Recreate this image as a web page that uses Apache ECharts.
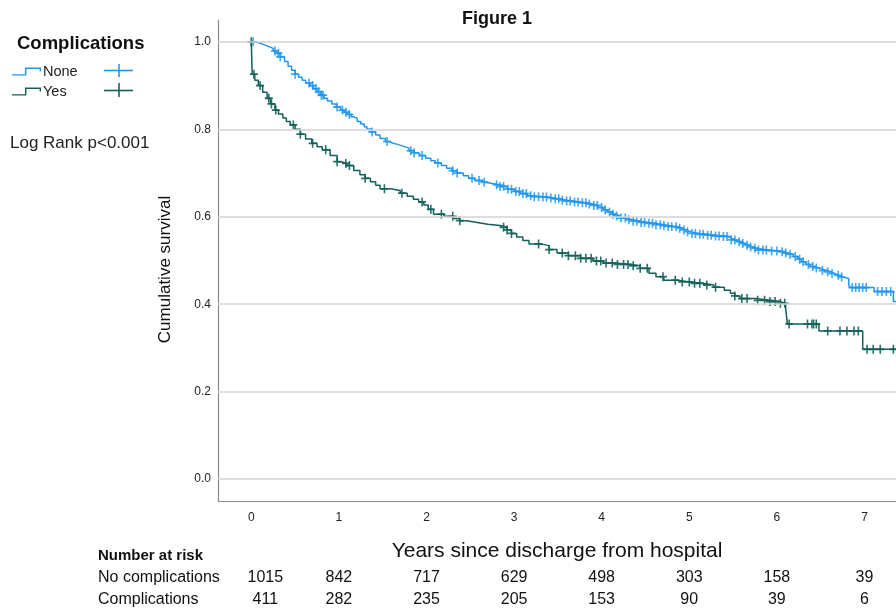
<!DOCTYPE html>
<html>
<head>
<meta charset="utf-8">
<script src="https://cdn.jsdelivr.net/npm/echarts@6/dist/echarts.min.js"></script>
<style>html,body{margin:0;padding:0;background:#fff;}#c{width:896px;height:609px;}</style>
</head>
<body>
<div id="c"></div>
<script>
// ---- Data ----
const years = [0, 1, 2, 3, 4, 5, 6, 7];
const yTicks = [0, 0.2, 0.4, 0.6, 0.8, 1.0];
const atRiskNone = [1015, 842, 717, 629, 498, 303, 158, 39];
const atRiskYes = [411, 282, 235, 205, 153, 90, 39, 6];

// Kaplan-Meier steps: "None" (no complications)
const noneTimes = [0, 0.05, 0.10, 0.15, 0.20, 0.25, 0.29, 0.33, 0.38, 0.42, 0.46, 0.50, 0.54, 0.58, 0.62, 0.67, 0.71, 0.75, 0.79, 0.83, 0.87, 0.92, 0.97, 1.02, 1.06, 1.10, 1.14, 1.17, 1.21, 1.25, 1.29, 1.32, 1.37, 1.42, 1.47, 1.53, 1.58, 1.62, 1.68, 1.74, 1.80, 1.86, 1.92, 1.99, 2.05, 2.10, 2.17, 2.23, 2.29, 2.35, 2.42, 2.48, 2.55, 2.62, 2.68, 2.75, 2.84, 2.92, 3.00, 3.07, 3.15, 3.22, 3.30, 3.38, 3.45, 3.52, 3.60, 3.68, 3.75, 3.83, 3.90, 3.96, 4.02, 4.07, 4.12, 4.16, 4.21, 4.28, 4.35, 4.44, 4.52, 4.61, 4.70, 4.76, 4.82, 4.87, 4.92, 4.96, 5.01, 5.10, 5.20, 5.30, 5.39, 5.44, 5.48, 5.53, 5.58, 5.63, 5.68, 5.72, 5.77, 5.90, 6.04, 6.08, 6.12, 6.19, 6.24, 6.28, 6.33, 6.38, 6.43, 6.48, 6.52, 6.57, 6.62, 6.66, 6.71, 6.76, 6.82, 6.84, 7.11, 7.33, 7.36];
const noneSurv  = [1.0, 0.997, 0.993, 0.989, 0.985, 0.979, 0.974, 0.966, 0.955, 0.944, 0.935, 0.926, 0.919, 0.912, 0.906, 0.900, 0.893, 0.886, 0.878, 0.871, 0.865, 0.858, 0.851, 0.844, 0.839, 0.834, 0.829, 0.825, 0.818, 0.812, 0.806, 0.801, 0.794, 0.787, 0.779, 0.772, 0.768, 0.765, 0.761, 0.757, 0.751, 0.746, 0.740, 0.734, 0.728, 0.723, 0.717, 0.711, 0.705, 0.700, 0.694, 0.688, 0.683, 0.679, 0.676, 0.673, 0.669, 0.663, 0.658, 0.653, 0.648, 0.646, 0.645, 0.643, 0.641, 0.638, 0.636, 0.634, 0.632, 0.629, 0.626, 0.621, 0.616, 0.611, 0.606, 0.602, 0.597, 0.593, 0.590, 0.587, 0.585, 0.582, 0.580, 0.578, 0.577, 0.574, 0.570, 0.566, 0.562, 0.560, 0.558, 0.556, 0.555, 0.551, 0.547, 0.543, 0.539, 0.535, 0.531, 0.528, 0.524, 0.522, 0.520, 0.517, 0.514, 0.509, 0.503, 0.497, 0.491, 0.486, 0.483, 0.480, 0.477, 0.474, 0.470, 0.466, 0.462, 0.459, 0.444, 0.438, 0.429, 0.406, 0.406];

// Kaplan-Meier steps: "Yes" (complications)
const yesTimes = [0, 0.01, 0.04, 0.08, 0.13, 0.18, 0.22, 0.27, 0.31, 0.36, 0.40, 0.445, 0.50, 0.56, 0.62, 0.69, 0.75, 0.81, 0.90, 0.98, 1.03, 1.09, 1.17, 1.24, 1.30, 1.36, 1.42, 1.47, 1.59, 1.70, 1.78, 1.85, 1.91, 1.97, 2.02, 2.08, 2.20, 2.31, 2.38, 2.46, 2.58, 2.70, 2.84, 2.92, 2.97, 3.03, 3.10, 3.17, 3.30, 3.40, 3.49, 3.62, 3.76, 3.90, 4.02, 4.18, 4.33, 4.44, 4.54, 4.62, 4.71, 4.86, 5.01, 5.15, 5.28, 5.40, 5.47, 5.52, 5.58, 5.75, 5.92, 6.04, 6.10, 6.12, 6.48, 6.98, 7.36];
const yesSurv  = [1.0, 0.926, 0.912, 0.900, 0.885, 0.871, 0.858, 0.844, 0.835, 0.826, 0.818, 0.810, 0.800, 0.789, 0.778, 0.768, 0.760, 0.753, 0.740, 0.726, 0.722, 0.717, 0.706, 0.696, 0.688, 0.680, 0.672, 0.664, 0.660, 0.654, 0.647, 0.640, 0.634, 0.627, 0.617, 0.606, 0.601, 0.596, 0.591, 0.587, 0.583, 0.580, 0.576, 0.570, 0.562, 0.554, 0.546, 0.538, 0.534, 0.525, 0.517, 0.511, 0.505, 0.499, 0.494, 0.491, 0.488, 0.482, 0.471, 0.463, 0.455, 0.451, 0.448, 0.444, 0.439, 0.432, 0.425, 0.419, 0.413, 0.409, 0.406, 0.402, 0.391, 0.355, 0.339, 0.297, 0.297];

// Censoring times
const noneCensor = [0.02, 0.27, 0.31, 0.33, 0.50, 0.66, 0.70, 0.74, 0.77, 0.80, 0.82, 0.98, 1.04, 1.08, 1.12, 1.38, 1.55, 1.82, 1.86, 1.95, 2.13, 2.30, 2.35, 2.52, 2.60, 2.66, 2.80, 2.84, 2.88, 2.93, 2.97, 3.02, 3.06, 3.10, 3.14, 3.19, 3.23, 3.28, 3.33, 3.37, 3.42, 3.47, 3.51, 3.55, 3.60, 3.64, 3.69, 3.73, 3.78, 3.82, 3.86, 3.91, 3.95, 4.00, 4.04, 4.09, 4.13, 4.17, 4.22, 4.27, 4.31, 4.36, 4.40, 4.45, 4.49, 4.54, 4.58, 4.62, 4.67, 4.71, 4.76, 4.80, 4.85, 4.89, 4.94, 4.98, 5.03, 5.07, 5.12, 5.16, 5.21, 5.25, 5.30, 5.34, 5.39, 5.43, 5.48, 5.52, 5.57, 5.61, 5.66, 5.70, 5.75, 5.79, 5.84, 5.88, 5.94, 6.00, 6.06, 6.10, 6.15, 6.21, 6.26, 6.30, 6.36, 6.41, 6.45, 6.52, 6.58, 6.63, 6.70, 6.74, 6.86, 6.90, 6.94, 6.98, 7.02, 7.15, 7.20, 7.25, 7.30];
const yesCensor = [0.00, 0.03, 0.10, 0.20, 0.23, 0.28, 0.48, 0.56, 0.70, 0.85, 0.98, 1.08, 1.12, 1.30, 1.52, 1.72, 1.95, 2.05, 2.17, 2.30, 2.38, 2.88, 2.92, 2.97, 3.28, 3.40, 3.55, 3.62, 3.70, 3.76, 3.82, 3.88, 3.94, 3.99, 4.05, 4.12, 4.18, 4.25, 4.30, 4.36, 4.44, 4.52, 4.70, 4.84, 4.92, 5.00, 5.06, 5.12, 5.20, 5.30, 5.52, 5.60, 5.66, 5.78, 5.86, 5.92, 5.98, 6.04, 6.09, 6.14, 6.35, 6.40, 6.42, 6.45, 6.58, 6.72, 6.80, 6.88, 6.93, 7.03, 7.10, 7.18, 7.33];

// ---- Build chart ----
const FONT = "'Liberation Sans', Arial, sans-serif";
const C_NONE = '#2196ee';
const C_YES = '#11605a';
const PLUS = 'path://M4,0 H6 V4 H10 V6 H6 V10 H4 V6 H0 V4 H4 Z';
const STEP_ICON = 'path://M0,6.7 H13 V0 H29 V4 H27.6 V1.4 H14.4 V8 H0 Z';

function pairs(t, s) { return t.map((v, i) => [v, s[i]]); }
function survAt(t, s, x) {
  let v = s[0];
  for (let i = 0; i < t.length; i++) { if (t[i] <= x) v = s[i]; else break; }
  return v;
}
function censorPts(c, t, s) { return c.map(x => [x, survAt(t, s, x)]); }

const XMIN = -0.38, XMAX = 7.36;

function riskAxis(arr, offset) {
  return {
    type: 'value', gridIndex: 0, position: 'bottom', offset: offset,
    min: XMIN, max: XMAX,
    axisLine: { show: false, onZero: false }, axisTick: { show: false }, splitLine: { show: false },
    axisLabel: {
      customValues: years, margin: 8, color: '#111', fontFamily: FONT, fontSize: 16,
      formatter: function (v) {
        const i = years.indexOf(Math.round(v));
        if (i < 0) return '';
        return i === 0 ? '{f|' + arr[i] + '}' : String(arr[i]);
      },
      rich: { f: { padding: [0, 0, 0, 28], fontFamily: FONT, fontSize: 16, color: '#111' } }
    }
  };
}

const chart = echarts.init(document.getElementById('c'));
chart.setOption({
  animation: false,
  backgroundColor: '#fff',
  textStyle: { fontFamily: FONT },
  title: [
    { text: 'Figure 1', left: 462, top: 10, padding: 0, textStyle: { fontFamily: FONT, fontSize: 18, fontWeight: 'bold', color: '#111' } },
    { text: 'Complications', left: 17, top: 34, padding: 0, textStyle: { fontFamily: FONT, fontSize: 18.5, fontWeight: 'bold', color: '#111' } },
    { text: 'Log Rank p<0.001', left: 10, top: 135, padding: 0, textStyle: { fontFamily: FONT, fontSize: 17, fontWeight: 'normal', color: '#222' } }
  ],
  legend: {
    orient: 'vertical', left: 12, top: 64, padding: 0, itemWidth: 29, itemHeight: 8, itemGap: 5,
    data: [{ name: 'None', icon: STEP_ICON }, { name: 'Yes', icon: STEP_ICON }],
    textStyle: { fontFamily: FONT, fontSize: 14.5, color: '#222', padding: [0, 0, 0, -3] },
    selectedMode: false
  },
  grid: { left: 218, top: 20, right: 0, bottom: 108, containLabel: false },
  xAxis: [
    {
      type: 'value', min: XMIN, max: XMAX,
      name: 'Years since discharge from hospital', nameLocation: 'middle', nameGap: 40,
      nameTextStyle: { fontFamily: FONT, fontSize: 21, color: '#111' },
      axisLine: { show: true, onZero: false, lineStyle: { color: '#8a8a8a', width: 1.2 } },
      axisTick: { show: false }, splitLine: { show: false },
      axisLabel: { customValues: years, margin: 11, color: '#222', fontSize: 12, fontFamily: FONT }
    },
    riskAxis(atRiskNone, 61),
    riskAxis(atRiskYes, 83)
  ],
  yAxis: {
    type: 'value', min: -0.05, max: 1.05,
    name: 'Cumulative survival', nameLocation: 'middle', nameGap: 44,
    nameTextStyle: { fontFamily: FONT, fontSize: 17, color: '#111', padding: [0, 18, 0, 0] },
    axisLine: { show: true, onZero: false, lineStyle: { color: '#8a8a8a', width: 1.2 } },
    axisTick: { show: false }, splitLine: { show: false },
    axisLabel: { customValues: yTicks, margin: 7, color: '#222', fontSize: 12, fontFamily: FONT,
      formatter: v => v.toFixed(1) }
  },
  graphic: [
    { type: 'text', x: 98, y: 556, style: { text: 'Number at risk', font: 'bold 15px ' + FONT, fill: '#111', verticalAlign: 'middle' } },
    { type: 'text', x: 98, y: 578, style: { text: 'No complications', font: '16px ' + FONT, fill: '#111', verticalAlign: 'middle' } },
    { type: 'text', x: 98, y: 600, style: { text: 'Complications', font: '16px ' + FONT, fill: '#111', verticalAlign: 'middle' } },
    { type: 'line', shape: { x1: 104, y1: 70.5, x2: 133, y2: 70.5 }, style: { stroke: C_NONE, lineWidth: 1.6 } },
    { type: 'line', shape: { x1: 119, y1: 64, x2: 119, y2: 77 }, style: { stroke: C_NONE, lineWidth: 1.6 } },
    { type: 'line', shape: { x1: 104, y1: 90.5, x2: 133, y2: 90.5 }, style: { stroke: C_YES, lineWidth: 1.6 } },
    { type: 'line', shape: { x1: 119, y1: 83, x2: 119, y2: 97 }, style: { stroke: C_YES, lineWidth: 1.6 } }
  ],
  series: [
    {
      name: 'grid', type: 'line', data: [[0, 0]], symbol: 'none', z: 1, silent: true,
      lineStyle: { opacity: 0 },
      markLine: {
        silent: true, symbol: ['none', 'none'], label: { show: false },
        lineStyle: { color: '#d3d3d3', width: 1.6, type: 'solid' },
        data: yTicks.map(v => ({ yAxis: v }))
      }
    },
    {
      name: 'None', type: 'line', step: 'end', data: pairs(noneTimes, noneSurv), symbol: 'none', z: 3,
      color: C_NONE, lineStyle: { color: C_NONE, width: 1.5 }
    },
    {
      name: 'Yes', type: 'line', step: 'end', data: pairs(yesTimes, yesSurv), symbol: 'none', z: 3,
      color: C_YES, lineStyle: { color: C_YES, width: 1.5 }
    },
    {
      name: 'None censored', type: 'scatter', data: censorPts(noneCensor, noneTimes, noneSurv),
      symbol: PLUS, symbolSize: [8, 9], z: 4, itemStyle: { color: C_NONE, opacity: 0.85 }
    },
    {
      name: 'Yes censored', type: 'scatter', data: censorPts(yesCensor, yesTimes, yesSurv),
      symbol: PLUS, symbolSize: [8, 9], z: 4, itemStyle: { color: C_YES, opacity: 0.9 }
    }
  ]
});
</script>
</body>
</html>
